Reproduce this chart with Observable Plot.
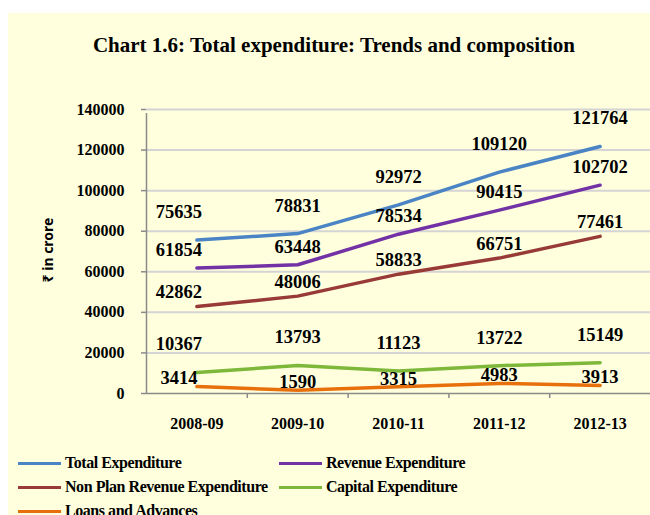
<!DOCTYPE html>
<html>
<head>
<meta charset="utf-8">
<script src="https://cdn.jsdelivr.net/npm/d3@7"></script>
<script src="https://cdn.jsdelivr.net/npm/@observablehq/plot@0.6"></script>
<style>
  html, body { margin: 0; padding: 0; background: #ffffff; }
  body { width: 650px; height: 515px; position: relative; overflow: hidden; }
  #panel { position: absolute; left: 8px; top: 13px; width: 642px; height: 502px; background: #FFFFDE; }
  #title { position: absolute; left: 0; top: 33px; width: 668px; text-align: center;
           font-family: "Liberation Serif", "Times New Roman", serif; font-weight: bold; font-size: 21px; color: #000; }
  #ytitle { position: absolute; left: 47px; top: 250px; transform: translate(-50%, -50%) rotate(-90deg);
            font-family: "Noto Sans", "DejaVu Sans", sans-serif; font-weight: bold; font-size: 14px; white-space: nowrap; color: #000; }
  #chart { position: absolute; left: 0; top: 0; }
  .leg { position: absolute; font-family: "Liberation Serif", "Times New Roman", serif; font-weight: bold;
         font-size: 16px; letter-spacing: -0.45px; color: #000; white-space: nowrap; line-height: 1; }
  .leg .sw { position: absolute; left: 0; top: 50%; width: 43px; height: 3px; margin-top: -1.5px; }
  .leg .tx { position: absolute; left: 47px; top: 50%; transform: translateY(-52%); }
</style>
</head>
<body>
<div id="panel"></div>
<div id="title">Chart 1.6: Total expenditure: Trends and composition</div>
<div id="ytitle">₹ in crore</div>
<div id="chart"></div>
<div id="legend"></div>
<script>
const years = ["2008-09", "2009-10", "2010-11", "2011-12", "2012-13"];
const seriesNames = ["Total Expenditure", "Revenue Expenditure", "Non Plan Revenue Expenditure", "Capital Expenditure", "Loans and Advances"];
const totalExpenditure = [75635, 78831, 92972, 109120, 121764];
const revenueExpenditure = [61854, 63448, 78534, 90415, 102702];
const nonPlanRevenueExpenditure = [42862, 48006, 58833, 66751, 77461];
const capitalExpenditure = [10367, 13793, 11123, 13722, 15149];
const loansAndAdvances = [3414, 1590, 3315, 4983, 3913];
const yTicks = [0, 20000, 40000, 60000, 80000, 100000, 120000, 140000];

const colors = ["#4A84C4", "#7232A6", "#983A36", "#7DB83A", "#E8700C"];
const labelDy = [-28, -18, -14, -28, -8];

const valuesBySeries = [totalExpenditure, revenueExpenditure, nonPlanRevenueExpenditure, capitalExpenditure, loansAndAdvances];
const rows = [];
seriesNames.forEach((s, si) => {
  years.forEach((y, i) => rows.push({series: s, si, year: y, i, value: valuesBySeries[si][i]}));
});

const xPos = d => d.i + 0.5;
const serif = "Liberation Serif, Times New Roman, serif";

const textMarks = seriesNames.map((s, si) => [
  Plot.text(rows.filter(d => d.si === si && d.i > 0), {
    x: xPos, y: "value", text: d => String(d.value), dy: labelDy[si],
    fontFamily: serif, fontWeight: "bold", fontSize: 18.5, fill: "#000"
  }),
  Plot.text(rows.filter(d => d.si === si && d.i === 0), {
    x: xPos, y: "value", text: d => String(d.value), dy: labelDy[si], dx: -18,
    fontFamily: serif, fontWeight: "bold", fontSize: 18.5, fill: "#000"
  })
]).flat();

const chart = Plot.plot({
  width: 650,
  height: 440,
  marginTop: 109,
  marginBottom: 47,
  marginLeft: 146,
  marginRight: 0,
  style: {background: "transparent", fontFamily: serif},
  x: {domain: [0, 5], range: [146, 650]},
  y: {domain: [0, 140000]},
  marks: [
    Plot.gridY(yTicks.filter(v => v > 0), {stroke: "#D4D4D4", strokeOpacity: 1, strokeWidth: 2}),
    Plot.ruleY([0], {stroke: "#8A8A8A", strokeWidth: 1.5}),
    Plot.ruleX([0], {stroke: "#8A8A8A", strokeWidth: 1.5, y1: 0, y2: 140000, insetBottom: -4}),
    Plot.axisY({ticks: yTicks, tickSize: 5, tickPadding: 17, stroke: "#8A8A8A", strokeWidth: 1.5,
      tickFormat: d => String(d), fontSize: 16, fontWeight: "bold", fill: "#000", label: null}),
    Plot.axisX({ticks: [1, 2, 3, 4], tickSize: 5, tickFormat: () => "", stroke: "#8A8A8A", strokeWidth: 1.5, label: null}),
    Plot.axisX({ticks: years.map((y, i) => i + 0.5), tickSize: 0, tickPadding: 24,
      tickFormat: v => years[Math.round(v - 0.5)], fontSize: 16, fontWeight: "bold", fill: "#000", label: null}),
    Plot.line(rows, {x: xPos, y: "value", z: "series", stroke: d => colors[d.si], strokeWidth: 3.5, strokeLinejoin: "round"}),
    ...textMarks
  ]
});
document.getElementById("chart").appendChild(chart);

const legendPos = [
  {left: 18, top: 463}, {left: 279, top: 463},
  {left: 18, top: 487}, {left: 279, top: 487},
  {left: 18, top: 511}
];
const leg = document.getElementById("legend");
seriesNames.forEach((s, si) => {
  const el = document.createElement("div");
  el.className = "leg";
  el.style.left = legendPos[si].left + "px";
  el.style.top = legendPos[si].top + "px";
  el.style.height = "0px";
  el.innerHTML = `<div class="sw" style="background:${colors[si]}"></div><div class="tx">${s}</div>`;
  leg.appendChild(el);
});
</script>
</body>
</html>
